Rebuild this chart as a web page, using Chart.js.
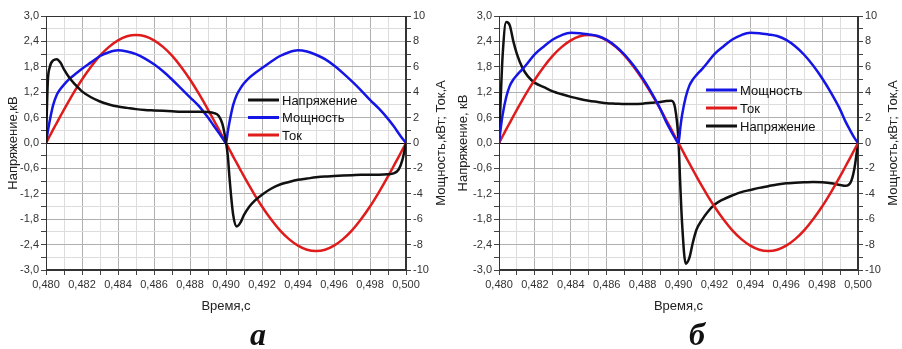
<!DOCTYPE html>
<html>
<head>
<meta charset="utf-8">
<script src="https://cdn.jsdelivr.net/npm/chart.js@4"></script>
<style>
  body { margin: 0; background: #fff; width: 902px; height: 349px; overflow: hidden; position: relative; }
  .box { position: absolute; top: 0; }
  .cap { position: absolute; top: 318px; font: italic bold 32px "Liberation Serif", "DejaVu Serif", serif; line-height: 32px; transform: translateX(-50%); color: #111; }
</style>
</head>
<body>
<div class="box" style="left:0"><canvas id="chartA" width="450" height="318"></canvas></div>
<div class="box" style="left:450px"><canvas id="chartB" width="452" height="318"></canvas></div>
<div class="cap" style="left:258px">а</div>
<div class="cap" style="left:697px">б</div>
<script>
// время, с
const time = [0.4800, 0.4801, 0.4802, 0.4804, 0.4806, 0.4808, 0.4810, 0.4813, 0.4816, 0.4820,
  0.4825, 0.4830, 0.4835, 0.4840, 0.4845, 0.4850, 0.4855, 0.4860, 0.4865, 0.4870,
  0.4875, 0.4880, 0.4885, 0.4890, 0.4893, 0.4896, 0.4898,
  0.4900, 0.4901, 0.4902, 0.4904, 0.4906, 0.4908, 0.4910, 0.4913, 0.4916, 0.4920,
  0.4925, 0.4930, 0.4935, 0.4940, 0.4945, 0.4950, 0.4955, 0.4960, 0.4965, 0.4970,
  0.4975, 0.4980, 0.4985, 0.4990, 0.4993, 0.4996, 0.4998,
  0.5000];

// ток, А (одинаковый на обоих графиках)
const current = [0, 0.27, 0.53, 1.07, 1.59, 2.11, 2.63, 3.38, 4.10, 5.00,
  6.01, 6.88, 7.57, 8.08, 8.40, 8.50, 8.40, 8.08, 7.57, 6.88,
  6.01, 5.00, 3.86, 2.63, 1.85, 1.07, 0.53,
  0, -0.27, -0.53, -1.07, -1.59, -2.11, -2.63, -3.38, -4.10, -5.00,
  -6.01, -6.88, -7.57, -8.08, -8.40, -8.50, -8.40, -8.08, -7.57, -6.88,
  -6.01, -5.00, -3.86, -2.63, -1.85, -1.07, -0.53,
  0];

// график а
const voltageA = [0, 1.45, 1.78, 1.95, 1.98, 1.90, 1.74, 1.54, 1.39, 1.22,
  1.08, 0.98, 0.91, 0.86, 0.83, 0.80, 0.78, 0.77, 0.76, 0.75,
  0.74, 0.74, 0.74, 0.73, 0.71, 0.64, 0.45,
  0.02, -0.30, -0.85, -1.70, -1.97, -1.88, -1.70, -1.50, -1.36, -1.22,
  -1.08, -0.98, -0.92, -0.87, -0.84, -0.81, -0.79, -0.78, -0.77, -0.76,
  -0.75, -0.75, -0.75, -0.74, -0.72, -0.62, -0.40,
  0];
const powerA = [0, 0.9, 1.7, 3.0, 3.8, 4.25, 4.6, 5.05, 5.4, 5.85,
  6.35, 6.85, 7.15, 7.3, 7.2, 7.0, 6.65, 6.2, 5.65, 5.0,
  4.3, 3.6, 2.9, 2.0, 1.4, 0.8, 0.4,
  0, 0.9, 1.7, 3.0, 3.8, 4.3, 4.7, 5.15, 5.5, 5.9,
  6.4, 6.85, 7.15, 7.3, 7.2, 6.95, 6.6, 6.1, 5.5, 4.85,
  4.15, 3.4, 2.7, 1.9, 1.35, 0.75, 0.35,
  0];

// график б
const voltageB = [0, 1.1, 2.05, 2.86, 2.78, 2.4, 2.1, 1.78, 1.58, 1.42,
  1.32, 1.22, 1.15, 1.09, 1.04, 1.00, 0.97, 0.94, 0.93, 0.92,
  0.92, 0.93, 0.95, 0.97, 0.99, 1.00, 0.85,
  0.05, -1.0, -1.9, -2.85, -2.72, -2.35, -2.05, -1.82, -1.64, -1.46,
  -1.33, -1.24, -1.16, -1.11, -1.06, -1.02, -0.98, -0.95, -0.94, -0.93,
  -0.92, -0.93, -0.95, -0.99, -1.01, -0.92, -0.60,
  0];
const powerB = [0, 1.2, 2.2, 3.6, 4.5, 5.0, 5.35, 5.8, 6.3, 7.0,
  7.6, 8.15, 8.5, 8.68, 8.65, 8.55, 8.42, 8.12, 7.62, 6.95,
  6.1, 5.1, 3.95, 2.65, 1.7, 0.9, 0.4,
  0, 1.2, 2.2, 3.6, 4.5, 5.0, 5.35, 5.8, 6.3, 7.0,
  7.6, 8.15, 8.5, 8.68, 8.65, 8.55, 8.42, 8.12, 7.62, 6.95,
  6.1, 5.1, 3.95, 2.65, 1.7, 0.9, 0.4,
  0];

const xTickLabels = ['0,480', '0,482', '0,484', '0,486', '0,488', '0,490', '0,492', '0,494', '0,496', '0,498', '0,500'];
const yLeftLabels = ['-3,0', '-2,4', '-1,8', '-1,2', '-0,6', '0,0', '0,6', '1,2', '1,8', '2,4', '3,0'];
const yRightLabels = ['-10', '-8', '-6', '-4', '-2', '0', '2', '4', '6', '8', '10'];

const FONT = '"Liberation Sans", Arial, sans-serif';
const BLACK = '#111111', BLUE = '#1515e6', RED = '#e01b1b';

function series(values) {
  return time.map((t, i) => ({ x: t, y: values[i] }));
}

function gridColor(ctx) {
  if (ctx.index === 10) return '#000';
  return ctx.index % 2 === 0 ? '#b0b0b0' : '#dcdcdc';
}

const insideLegend = {
  id: 'insideLegend',
  beforeDatasetsDraw(chart) {
    const { ctx, chartArea: a } = chart;
    ctx.save();
    ctx.strokeStyle = '#333';
    ctx.lineWidth = 1;
    ctx.strokeRect(a.left + 0.5, a.top + 0.5, a.right - a.left - 1, a.bottom - a.top - 1);
    ctx.restore();
  },
  afterDraw(chart, args, opts) {
    const { ctx, chartArea: a } = chart;
    ctx.save();
    ctx.font = '13px ' + FONT;
    ctx.textBaseline = 'middle';
    ctx.textAlign = 'left';
    opts.order.forEach((di, row) => {
      const ds = chart.data.datasets[di];
      const y = opts.y + row * opts.gap;
      ctx.strokeStyle = ds.borderColor;
      ctx.lineWidth = 3;
      ctx.beginPath();
      ctx.moveTo(opts.x, y);
      ctx.lineTo(opts.x + 31, y);
      ctx.stroke();
      ctx.fillStyle = '#111';
      ctx.fillText(ds.label, opts.x + 34, y + 1);
    });
    // правая подпись оси
    ctx.translate(opts.rightTitleX, (a.top + a.bottom) / 2);
    ctx.rotate(-Math.PI / 2);
    ctx.textAlign = 'center';
    ctx.fillStyle = '#222';
    ctx.fillText('Мощность,кВт; Ток,А', 0, 0);
    ctx.restore();
  }
};

function buildChart(id, cfg) {
  return new Chart(document.getElementById(id), {
    type: 'line',
    data: { datasets: cfg.datasets },
    options: {
      responsive: false,
      animation: false,
      layout: { padding: { top: 16, left: 0, right: 0, bottom: 0 } },
      elements: {
        point: { radius: 0 },
        line: { borderWidth: 2.5, cubicInterpolationMode: 'monotone' }
      },
      plugins: {
        legend: { display: false },
        tooltip: { enabled: false },
        insideLegend: cfg.legend
      },
      scales: {
        x: {
          type: 'linear', min: 0.48, max: 0.5,
          afterFit: s => { s.height = 48; },
          ticks: {
            stepSize: 0.001, autoSkip: false, maxRotation: 0, padding: 3,
            font: { size: 11, family: FONT }, color: '#333',
            callback: (v, i) => i % 2 === 0 ? xTickLabels[i / 2] : ''
          },
          grid: { color: ctx => ctx.index % 2 === 0 ? '#b0b0b0' : '#dcdcdc', tickLength: 5, tickColor: '#444' },
          border: { color: '#333' },
          title: { display: true, text: 'Время,с', font: { size: 13, family: FONT }, color: '#222', padding: { top: 2, bottom: 4 } }
        },
        y: {
          position: 'left', min: -3, max: 3,
          afterFit: s => { s.width = cfg.leftWidth; },
          ticks: {
            stepSize: 0.3, autoSkip: false, padding: 2,
            font: { size: 11, family: FONT }, color: '#333',
            callback: (v, i) => i % 2 === 0 ? yLeftLabels[i / 2] : ''
          },
          grid: { color: gridColor, tickLength: 5, tickColor: '#444' },
          border: { color: '#333' },
          title: { display: true, text: cfg.leftTitle, font: { size: 13, family: FONT }, color: '#222', padding: { top: 6, bottom: 2 } }
        },
        y2: {
          position: 'right', min: -10, max: 10,
          afterFit: s => { s.width = 44; },
          ticks: {
            stepSize: 1, autoSkip: false, padding: 2,
            font: { size: 11, family: FONT }, color: '#333',
            callback: (v, i) => i % 2 === 0 ? yRightLabels[i / 2] : ''
          },
          grid: { drawOnChartArea: false, tickLength: 5, tickColor: '#444' },
          border: { color: '#333' }
        }
      }
    },
    plugins: [insideLegend]
  });
}

buildChart('chartA', {
  leftWidth: 46,
  leftTitle: 'Напряжение,кВ',
  legend: { x: 248, y: 100, gap: 17.5, order: [0, 1, 2], rightTitleX: 441 },
  datasets: [
    { label: 'Напряжение', data: series(voltageA), borderColor: BLACK, yAxisID: 'y' },
    { label: 'Мощность', data: series(powerA), borderColor: BLUE, yAxisID: 'y2' },
    { label: 'Ток', data: series(current), borderColor: RED, yAxisID: 'y2' }
  ]
});

buildChart('chartB', {
  leftWidth: 49,
  leftTitle: 'Напряжение, кВ',
  legend: { x: 256, y: 90, gap: 18, order: [0, 1, 2], rightTitleX: 443 },
  datasets: [
    { label: 'Мощность', data: series(powerB), borderColor: BLUE, yAxisID: 'y2' },
    { label: 'Ток', data: series(current), borderColor: RED, yAxisID: 'y2' },
    { label: 'Напряжение', data: series(voltageB), borderColor: BLACK, yAxisID: 'y' }
  ]
});
</script>
</body>
</html>
